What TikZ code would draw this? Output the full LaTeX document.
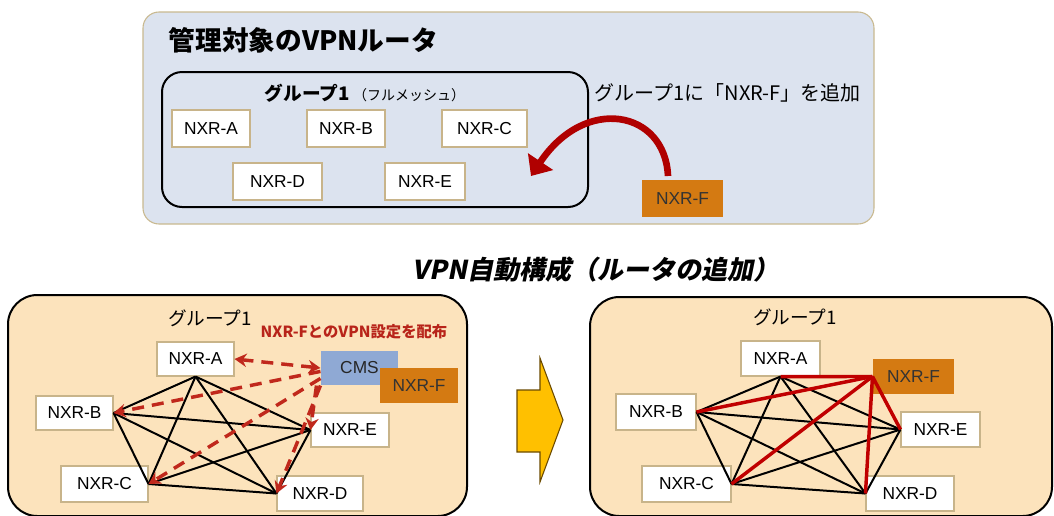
\documentclass[tikz,border=0pt]{standalone}
\usepackage{fontspec}
\setmainfont{Noto Sans CJK JP}
\newfontfamily\lat{Liberation Sans}
\newfontfamily\cjkslant{Noto Sans CJK JP}[FakeSlant=0.2]
\usetikzlibrary{arrows.meta}
\definecolor{topbg}{HTML}{DCE3EF}
\definecolor{topborder}{HTML}{C9B98F}
\definecolor{peach}{HTML}{FCE3BC}
\definecolor{nodeborder}{HTML}{C8B48A}
\definecolor{orangebox}{HTML}{D47A12}
\definecolor{cmsblue}{HTML}{8FA9D4}
\definecolor{darkred}{HTML}{B00000}
\definecolor{dashred}{HTML}{C0281C}
\definecolor{linered}{HTML}{C00000}
\definecolor{arrowgold}{HTML}{FFC000}
\definecolor{arrowedge}{HTML}{6B4A00}
\definecolor{labelred}{HTML}{B8241A}
\tikzset{
  router/.style={draw=nodeborder, line width=0.8pt, fill=white, inner sep=0pt,
    minimum height=26pt, font=\lat\fontsize{13}{13}\selectfont},
  routerF/.style={router, draw=none, fill=orangebox, text=black!80},
  cmsbox/.style={router, draw=none, fill=cmsblue, text=black!85},
  mesh/.style={line width=1.5pt, black},
  meshred/.style={line width=2.6pt, linered},
  dist/.style={line width=2.6pt, dashred, dash pattern=on 9pt off 6pt,
    -{Stealth[length=9pt,width=10pt]}},
  distboth/.style={dist, {Stealth[length=9pt,width=10pt]}-{Stealth[length=9pt,width=10pt]}},
  panel/.style={line width=1.5pt, draw=black, fill=peach, rounded corners=22pt},
}
\begin{document}
\begin{tikzpicture}[x=0.75pt,y=-0.75pt]
\useasboundingbox (0,0) rectangle (1054,515);
\fill[white] (0,0) rectangle (1054,515);
\begin{scope}
\clip (0,0) rectangle (1054,515);
% ---------- top panel ----------
\draw[fill=topbg, draw=topborder, line width=0.8pt, rounded corners=12pt] (143,12) rectangle (874,224);
\node[anchor=west, font=\bfseries\fontsize{20}{20}\selectfont] (title) at (164,40) {管理対象のVPNルータ};
\draw[line width=1.5pt, rounded corners=15pt] (162,72) rectangle (588,207);
\node[font=\fontsize{14}{14}\selectfont] (g1top) at (365,93) {{\bfseries グループ1}\,{\fontsize{10.5}{10.5}\selectfont （フルメッシュ）}};
\node[router, minimum width=58.5pt, minimum height=27.75pt] (tA) at (211,128.5) {NXR-A};
\node[router, minimum width=58.5pt, minimum height=27.75pt] (tB) at (346,128.5) {NXR-B};
\node[router, minimum width=63.75pt, minimum height=27.75pt] (tC) at (484.5,128.5) {NXR-C};
\node[router, minimum width=66.75pt, minimum height=27.75pt] (tD) at (277.5,181.5) {NXR-D};
\node[router, minimum width=60pt, minimum height=27.75pt] (tE) at (425,181.5) {NXR-E};
\node[anchor=west, font=\fontsize{15}{15}\selectfont] (addtxt) at (590,93) {グループ1に「NXR-F」を追加};
\node[routerF, minimum width=60.75pt, minimum height=27.75pt] (tF) at (682.5,198.5) {NXR-F};
\coordinate (curvestart) at (668,176);
\coordinate (curveend) at (531,176);
\draw[darkred, line width=5pt, -{Triangle[length=13pt,width=22pt]}]
  (curvestart) .. controls (665,110) and (585,95) .. (curveend);
% ---------- heading ----------
\node[font=\cjkslant\bfseries\fontsize{19.5}{19.5}\selectfont] (heading) at (596,270) {VPN自動構成（ルータの追加）};
% ---------- bottom left panel ----------
\draw[panel] (8,295) rectangle (467,516);
\node[font=\fontsize{14}{14}\selectfont] (g1L) at (210,318) {グループ1};
\node[font=\bfseries\fontsize{11.5}{11.5}\selectfont, text=labelred] (distlabel) at (354,332) {NXR-FとのVPN設定を配布};
\node[router, minimum width=57.75pt, minimum height=25.5pt] (lA) at (195.5,359) {NXR-A};
\node[cmsbox, minimum width=57.75pt, minimum height=25.5pt] (lCMS) at (359.5,368) {CMS};
\node[routerF, minimum width=58.5pt, minimum height=26.25pt] (lF) at (419,385.5) {NXR-F};
\node[router, minimum width=57.75pt, minimum height=25.5pt] (lB) at (74.5,413) {NXR-B};
\node[router, minimum width=58.5pt, minimum height=25.5pt] (lE) at (350,430) {NXR-E};
\node[router, minimum width=65.25pt, minimum height=27pt] (lC) at (104.5,484) {NXR-C};
\node[router, minimum width=64.5pt, minimum height=26.25pt] (lD) at (320,493.5) {NXR-D};
\draw[mesh] (lA.south) -- (lB.east);
\draw[mesh] (lA.south) -- (lC.east);
\draw[mesh] (lA.south) -- (lD.west);
\draw[mesh] (lA.south) -- (lE.west);
\draw[mesh] (lB.east) -- (lC.east);
\draw[mesh] (lB.east) -- (lD.west);
\draw[mesh] (lB.east) -- (lE.west);
\draw[mesh] (lC.east) -- (lD.west);
\draw[mesh] (lC.east) -- (lE.west);
\draw[mesh] (lD.west) -- (lE.west);
\draw[distboth] (lCMS.west) -- (lA.east);
\draw[dist] (lCMS.185) -- (lB.east);
\draw[dist] (lCMS.195) -- (lC.east);
\draw[dist] (lCMS.south west) -- (lD.west);
\draw[dist] ([xshift=-3pt]lCMS.south west) -- (lE.west);
% ---------- big arrow ----------
\draw[fill=arrowgold, draw=arrowedge, line width=0.8pt]
  (517,390) -- (540,390) -- (540,358) -- (563,420) -- (540,482) -- (540,452) -- (517,452) -- cycle;
% ---------- bottom right panel ----------
\draw[panel] (590,297) rectangle (1052,516);
\node[font=\fontsize{14}{14}\selectfont] (g1R) at (795,317) {グループ1};
\node[router, minimum width=59.25pt, minimum height=26.25pt] (rA) at (780.5,358.5) {NXR-A};
\node[routerF, minimum width=60.75pt, minimum height=26.25pt] (rF) at (913.5,376.5) {NXR-F};
\node[router, minimum width=60pt, minimum height=27pt] (rB) at (656,412) {NXR-B};
\node[router, minimum width=59.25pt, minimum height=26.25pt] (rE) at (940.5,429.5) {NXR-E};
\node[router, minimum width=66.75pt, minimum height=27pt] (rC) at (686.5,484) {NXR-C};
\node[router, minimum width=66pt, minimum height=26.25pt] (rD) at (910,493.5) {NXR-D};
\draw[mesh] (rA.south) -- (rB.east);
\draw[mesh] (rA.south) -- (rC.east);
\draw[mesh] (rA.south) -- (rD.west);
\draw[mesh] (rA.south) -- (rE.west);
\draw[mesh] (rB.east) -- (rC.east);
\draw[mesh] (rB.east) -- (rD.west);
\draw[mesh] (rB.east) -- (rE.west);
\draw[mesh] (rC.east) -- (rD.west);
\draw[mesh] (rC.east) -- (rE.west);
\draw[mesh] (rD.west) -- (rE.west);
\draw[meshred] (rF.west) -- (rA.south);
\draw[meshred] (rF.west) -- (rB.east);
\draw[meshred] (rF.west) -- (rC.east);
\draw[meshred] (rF.west) -- (rD.west);
\draw[meshred] (rF.west) -- (rE.west);
\end{scope}
\end{tikzpicture}
\end{document}
